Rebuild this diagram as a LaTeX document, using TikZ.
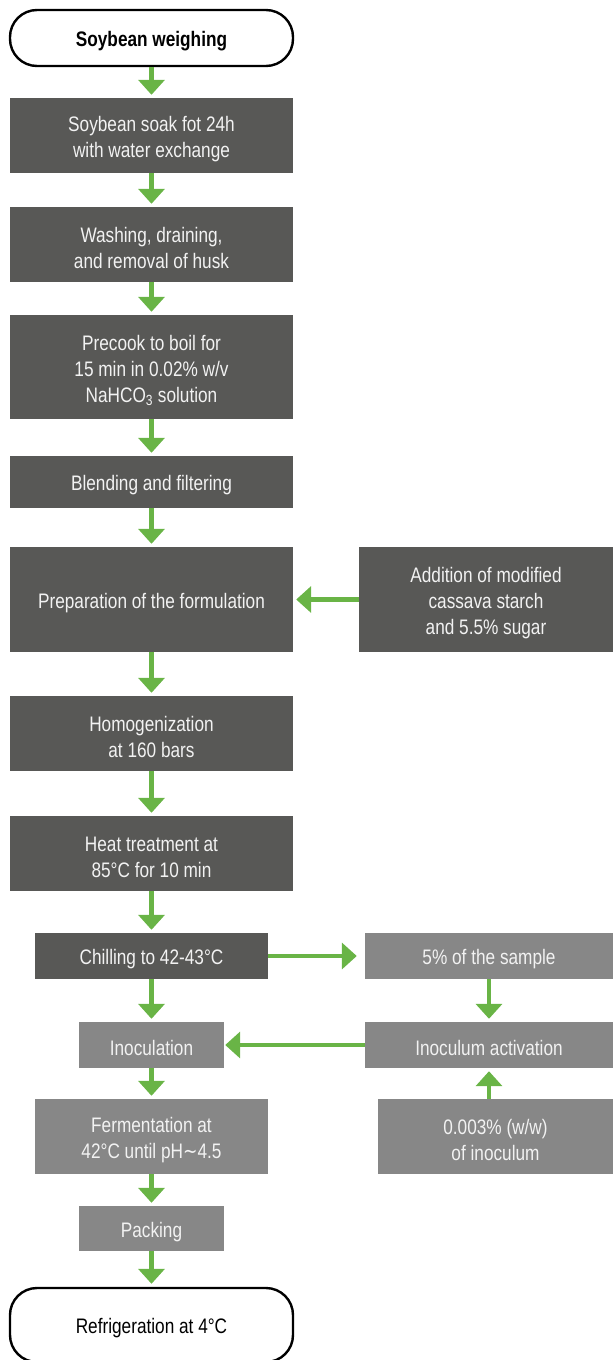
\documentclass[tikz,border=0pt]{standalone}
\usepackage{fontspec}
\setmainfont{Liberation Sans}[FakeStretch=0.82]
\newfontfamily\dejavu{DejaVu Sans}[FakeStretch=0.82]
\usetikzlibrary{arrows.meta}
\definecolor{darkbox}{HTML}{585856}
\definecolor{lightbox}{HTML}{878787}
\definecolor{flowgreen}{HTML}{69B446}
\definecolor{boxtext}{HTML}{F2F2F2}
\newcommand\topgap{\rule{0pt}{23pt}}
\begin{document}
\begin{tikzpicture}[x=1pt,y=-1pt,
  every node/.style={font=\fontsize{21}{26}\selectfont, align=center, inner sep=0pt,
    execute at begin node={\rule{0pt}{21.5pt}}},
  dbox/.style={rectangle, fill=darkbox, text=boxtext},
  lbox/.style={rectangle, fill=lightbox, text=boxtext},
  term/.style={rectangle, draw=black, line width=2.4pt, rounded corners=27pt, fill=white, text=black, minimum width=283pt},
  flow/.style={draw=flowgreen, line width=4.5pt, -{Triangle[width=26pt,length=15pt]}, shorten >=3pt}
]
\useasboundingbox (0,0) rectangle (613,1360);

\node[term, minimum height=56pt, font=\fontsize{21}{26}\selectfont\bfseries] (start) at (151.5,38) {Soybean weighing};
\node[dbox, minimum width=283pt, minimum height=75pt] (b1) at (151.5,135.5) {\topgap Soybean soak fot 24h\\with water exchange};
\node[dbox, minimum width=283pt, minimum height=75pt] (b2) at (151.5,244.5) {\topgap Washing, draining,\\and removal of husk};
\node[dbox, minimum width=283pt, minimum height=104pt] (b3) at (151.5,367) {\topgap Precook to boil for\\15 min in 0.02\% w/v\\NaHCO\textsubscript{3} solution};
\node[dbox, minimum width=283pt, minimum height=52pt] (b4) at (151.5,482) {Blending and filtering};
\node[dbox, minimum width=283pt, minimum height=105pt] (b5) at (151.5,599.5) {Preparation of the formulation};
\node[dbox, minimum width=254pt, minimum height=105pt] (add) at (486,599.5) {\topgap Addition of modified\\cassava starch\\and 5.5\% sugar};
\node[dbox, minimum width=283pt, minimum height=75pt] (b6) at (151.5,733.5) {\topgap Homogenization\\at 160 bars};
\node[dbox, minimum width=283pt, minimum height=75pt] (b7) at (151.5,853.5) {\topgap Heat treatment at\\85°C for 10 min};
\node[dbox, minimum width=233pt, minimum height=46pt] (chill) at (151.5,956) {Chilling to 42-43°C};
\node[lbox, minimum width=248pt, minimum height=46pt] (sample) at (489,956) {5\% of the sample};
\node[lbox, minimum width=145pt, minimum height=46pt] (inoc) at (151.5,1045) {Inoculation};
\node[lbox, minimum width=248pt, minimum height=46pt] (act) at (489,1045) {Inoculum activation};
\node[lbox, minimum width=233pt, minimum height=75pt] (ferm) at (151.5,1136.5) {\topgap Fermentation at\\42°C until pH{\dejavu ∼}4.5};
\node[lbox, minimum width=235pt, minimum height=75pt] (src) at (495.5,1136.5) {\topgap 0.003\% (w/w)\\of inoculum};
\node[lbox, minimum width=145pt, minimum height=45pt] (pack) at (151.5,1228.5) {Packing};
\node[term, minimum height=74pt] (end) at (151.5,1325) {Refrigeration at 4°C};

\draw[flow] (start) -- (b1);
\draw[flow] (b1) -- (b2);
\draw[flow] (b2) -- (b3);
\draw[flow] (b3) -- (b4);
\draw[flow] (b4) -- (b5);
\draw[flow] (add) -- (b5);
\draw[flow] (b5) -- (b6);
\draw[flow] (b6) -- (b7);
\draw[flow] (b7) -- (chill);
\draw[flow, shorten >=8pt] (chill) -- (sample);
\draw[flow] (chill) -- (inoc);
\draw[flow] (sample) -- (act);
\draw[flow, shorten >=1pt] (act) -- (inoc);
\draw[flow] (src.north -| act.south) -- (act.south);
\draw[flow] (inoc) -- (ferm);
\draw[flow] (ferm) -- (pack);
\draw[flow] (pack) -- (end);
\end{tikzpicture}
\end{document}
